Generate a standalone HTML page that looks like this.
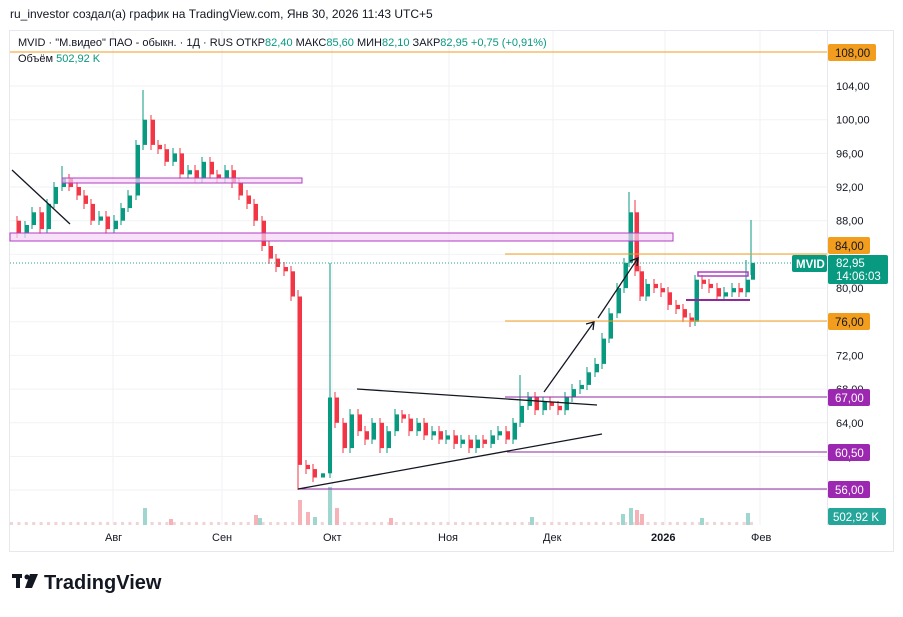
<!DOCTYPE html><html><head><meta charset="utf-8"><style>
body{margin:0;background:#fff;width:903px;height:612px;overflow:hidden;font-family:"Liberation Sans",sans-serif}
</style></head><body>
<svg width="903" height="612" xmlns="http://www.w3.org/2000/svg" font-family="Liberation Sans, sans-serif">
<defs><pattern id="vp" x="10" y="0" width="7.4" height="10" patternUnits="userSpaceOnUse"><rect x="0" y="0" width="3" height="10" fill="#efd3d6"/></pattern></defs>
<text x="10" y="18" font-size="12" fill="#131722">ru_investor создал(а) график на TradingView.com, Янв 30, 2026 11:43 UTC+5</text>
<rect x="9.5" y="30.5" width="884" height="521" fill="#fff" stroke="#e6e8ee"/>
<g stroke="#f0f2f5" stroke-width="1">
<line x1="10" x2="827" y1="86" y2="86"/><line x1="10" x2="827" y1="119.7" y2="119.7"/><line x1="10" x2="827" y1="153.4" y2="153.4"/><line x1="10" x2="827" y1="187" y2="187"/><line x1="10" x2="827" y1="220.7" y2="220.7"/><line x1="10" x2="827" y1="254.4" y2="254.4"/><line x1="10" x2="827" y1="288.1" y2="288.1"/><line x1="10" x2="827" y1="321.8" y2="321.8"/><line x1="10" x2="827" y1="355.4" y2="355.4"/><line x1="10" x2="827" y1="389.1" y2="389.1"/><line x1="10" x2="827" y1="422.8" y2="422.8"/><line x1="10" x2="827" y1="456.5" y2="456.5"/><line x1="10" x2="827" y1="490" y2="490"/>
<line y1="31" y2="525" x1="113" x2="113"/><line y1="31" y2="525" x1="222" x2="222"/><line y1="31" y2="525" x1="332" x2="332"/><line y1="31" y2="525" x1="449" x2="449"/><line y1="31" y2="525" x1="553" x2="553"/><line y1="31" y2="525" x1="665" x2="665"/><line y1="31" y2="525" x1="760" x2="760"/>
</g>
<line x1="827.5" y1="31" x2="827.5" y2="525" stroke="#e6e8ee"/>
<rect x="10" y="522" width="746" height="3" fill="url(#vp)"/>
<g fill="#f5b3b8"><rect x="298" y="500" width="4" height="25"/><rect x="306" y="512" width="4" height="13"/><rect x="335" y="508" width="4" height="17"/><rect x="254" y="515" width="4" height="10"/><rect x="640" y="514" width="4" height="11"/><rect x="635" y="510" width="4" height="15"/><rect x="169" y="519" width="4" height="6"/><rect x="389" y="518" width="4" height="7"/></g>
<g fill="#9fd6d0"><rect x="143" y="508" width="4" height="17"/><rect x="328" y="487" width="4" height="38"/><rect x="313" y="517" width="4" height="8"/><rect x="629" y="508" width="4" height="17"/><rect x="621" y="514" width="4" height="11"/><rect x="746" y="513" width="4" height="12"/><rect x="530" y="517" width="4" height="8"/><rect x="258" y="518" width="4" height="7"/><rect x="700" y="518" width="4" height="7"/></g>
<path stroke="#089981" fill="none" d="M25 221V238M32 207V229M47 199V233M54 182V208M62 166V191M99 211V225M114 215V233M121 203V225M128 190V212M136 140V200M143 90V150M173 148V166M188 165V179M202 157V183M225 165V183M330 263V478M350 409V453M372 418V444M387 426V453M395 409V436M417 418V436M432 426V440M446 430V444M461 435V448M476 435V453M491 430V448M498 426V440M513 418V444M520 375V427M528 392V410M543 397V415M565 392V415M572 384V402M580 380V394M587 367V390M595 358V377M602 333V369M609 308V343M617 283V318M624 258V293M629 192V267M646 279V301M695 275V326M724 287V301M732 283V297M746 260V297M751 220V275"/>
<path stroke="#f23645" fill="none" d="M17 216V238M40 207V234M69 174V191M77 182V200M84 190V209M91 199V225M106 211V234M151 115V150M158 140V154M165 144V166M180 148V179M195 165V183M210 157V179M217 170V183M232 165V188M239 178V200M247 190V209M254 199V226M262 216V251M269 241V264M276 254V272M284 262V276M291 266V301M298 290V490M306 460V474M313 464V482M335 392V428M343 418V453M358 409V436M365 426V445M380 418V453M402 410V423M409 414V436M424 418V440M439 426V444M454 430V449M469 435V453M483 435V448M506 426V444M535 392V415M550 397V410M558 401V415M635 200V276M640 266V301M654 279V293M661 283V297M668 287V310M676 300V314M683 304V322M690 313V327M702 275V289M709 279V293M717 283V301M739 283V297"/>
<g fill="#089981">
<rect x="25" y="225" width="4" height="8.4"/><rect x="32" y="212.3" width="4" height="12.7"/><rect x="47" y="203.9" width="4" height="25.2"/><rect x="54" y="187" width="4" height="16.9"/><rect x="62" y="178.6" width="4" height="8.4"/><rect x="99" y="216.5" width="4" height="4.2"/><rect x="114" y="220.7" width="4" height="8.4"/><rect x="121" y="208.1" width="4" height="12.6"/><rect x="128" y="195.5" width="4" height="12.6"/><rect x="136" y="144.9" width="4" height="50.6"/><rect x="143" y="119.7" width="4" height="25.2"/><rect x="173" y="153.4" width="4" height="8.4"/><rect x="188" y="170.2" width="4" height="4.2"/><rect x="202" y="161.8" width="4" height="16.8"/><rect x="225" y="170.2" width="4" height="8.4"/>
<rect x="321" y="473.3" width="4" height="4.2"/><rect x="328" y="397.5" width="4" height="75.8"/><rect x="350" y="414.4" width="4" height="33.7"/><rect x="372" y="422.8" width="4" height="16.8"/><rect x="387" y="431.2" width="4" height="16.9"/><rect x="395" y="414.4" width="4" height="16.8"/><rect x="417" y="422.8" width="4" height="8.4"/><rect x="432" y="431.2" width="4" height="4.2"/><rect x="446" y="435.4" width="4" height="4.2"/><rect x="461" y="439.6" width="4" height="4.3"/><rect x="476" y="439.6" width="4" height="8.5"/><rect x="491" y="435.4" width="4" height="8.5"/><rect x="498" y="431.2" width="4" height="4.2"/><rect x="513" y="422.8" width="4" height="16.8"/><rect x="520" y="405.9" width="4" height="16.9"/><rect x="528" y="397.5" width="4" height="8.4"/><rect x="543" y="401.7" width="4" height="8.5"/><rect x="565" y="397.5" width="4" height="12.7"/><rect x="572" y="389.1" width="4" height="8.4"/><rect x="580" y="384.9" width="4" height="4.2"/><rect x="587" y="372.3" width="4" height="12.6"/><rect x="595" y="363.9" width="4" height="8.4"/><rect x="602" y="338.6" width="4" height="25.3"/><rect x="609" y="313.3" width="4" height="25.3"/><rect x="617" y="288.1" width="4" height="25.2"/><rect x="624" y="262.8" width="4" height="25.3"/><rect x="629" y="212.3" width="4" height="50.5"/><rect x="646" y="283.9" width="4" height="12.6"/><rect x="695" y="279.7" width="4" height="42.1"/><rect x="724" y="292.3" width="4" height="4.2"/><rect x="732" y="288.1" width="4" height="4.2"/><rect x="746" y="279.7" width="4" height="12.6"/><rect x="751" y="262.8" width="4" height="16.9"/>
</g>
<g fill="#f23645">
<rect x="17" y="220.7" width="4" height="12.7"/><rect x="40" y="212.3" width="4" height="16.8"/><rect x="69" y="178.6" width="4" height="8.4"/><rect x="77" y="187" width="4" height="8.5"/><rect x="84" y="195.5" width="4" height="8.4"/><rect x="91" y="203.9" width="4" height="16.8"/><rect x="106" y="216.5" width="4" height="12.6"/><rect x="151" y="119.7" width="4" height="25.2"/><rect x="158" y="144.9" width="4" height="4.3"/><rect x="165" y="149.2" width="4" height="12.6"/><rect x="180" y="153.4" width="4" height="21"/><rect x="195" y="170.2" width="4" height="8.4"/><rect x="210" y="161.8" width="4" height="12.6"/><rect x="217" y="174.4" width="4" height="4.2"/><rect x="232" y="170.2" width="4" height="12.7"/><rect x="239" y="182.9" width="4" height="12.6"/><rect x="247" y="195.5" width="4" height="8.4"/><rect x="254" y="203.9" width="4" height="16.8"/><rect x="262" y="220.7" width="4" height="25.3"/><rect x="269" y="246" width="4" height="12.6"/><rect x="276" y="258.6" width="4" height="8.4"/><rect x="284" y="267" width="4" height="4.3"/><rect x="291" y="271.3" width="4" height="25.2"/><rect x="298" y="296.5" width="4" height="168.4"/><rect x="306" y="464.9" width="4" height="4.2"/><rect x="313" y="469.1" width="4" height="8.4"/>
<rect x="335" y="397.5" width="4" height="25.3"/><rect x="343" y="422.8" width="4" height="25.3"/><rect x="358" y="414.4" width="4" height="16.8"/><rect x="365" y="431.2" width="4" height="8.4"/><rect x="380" y="422.8" width="4" height="25.3"/><rect x="402" y="414.4" width="4" height="4.2"/><rect x="409" y="418.6" width="4" height="12.6"/><rect x="424" y="422.8" width="4" height="12.6"/><rect x="439" y="431.2" width="4" height="8.4"/><rect x="454" y="435.4" width="4" height="8.5"/><rect x="469" y="439.6" width="4" height="8.5"/><rect x="483" y="439.6" width="4" height="4.3"/><rect x="506" y="431.2" width="4" height="8.4"/><rect x="535" y="397.5" width="4" height="12.7"/><rect x="550" y="401.7" width="4" height="4.2"/><rect x="558" y="405.9" width="4" height="4.3"/>
<rect x="635" y="212.3" width="4" height="59"/><rect x="640" y="271.3" width="4" height="25.2"/><rect x="654" y="283.9" width="4" height="4.2"/><rect x="661" y="288.1" width="4" height="4.2"/><rect x="668" y="292.3" width="4" height="12.6"/><rect x="676" y="304.9" width="4" height="4.2"/><rect x="683" y="309.1" width="4" height="8.4"/><rect x="690" y="317.5" width="4" height="4.3"/><rect x="702" y="279.7" width="4" height="4.2"/><rect x="709" y="283.9" width="4" height="4.2"/><rect x="717" y="288.1" width="4" height="8.4"/><rect x="739" y="288.1" width="4" height="4.2"/>
</g>
<rect x="62" y="178" width="240" height="5" fill="#f3d6f7" fill-opacity="0.7" stroke="#b03dc2"/>
<rect x="10" y="233" width="663" height="8" fill="#f3d6f7" fill-opacity="0.7" stroke="#b03dc2"/>
<rect x="698" y="272" width="50" height="4" fill="none" stroke="#b03dc2" stroke-width="1.5"/>
<line x1="10" y1="52" x2="827" y2="52" stroke="#f29d1e"/>
<line x1="505" y1="254" x2="827" y2="254" stroke="#f29d1e"/>
<line x1="505" y1="321" x2="827" y2="321" stroke="#f29d1e"/>
<line x1="505" y1="397" x2="827" y2="397" stroke="#8e2a9c"/>
<line x1="507" y1="452" x2="827" y2="452" stroke="#8e2a9c"/>
<line x1="298" y1="489" x2="827" y2="489" stroke="#8e2a9c"/>
<line x1="686" y1="300" x2="750" y2="300" stroke="#8e2a9c" stroke-width="2"/>
<line x1="10" y1="263" x2="827" y2="263" stroke="#26a69a" stroke-dasharray="1,2"/>
<g stroke="#131722" stroke-width="1.3" fill="none">
<line x1="12" y1="170" x2="70" y2="224"/>
<line x1="357" y1="389" x2="597" y2="405"/>
<line x1="298" y1="489" x2="602" y2="434"/>
<line x1="544" y1="392" x2="594" y2="322"/><polyline points="586,324 594,322 593,330"/>
<line x1="598" y1="318" x2="638" y2="258"/><polyline points="630,261 638,258 637,266"/>
</g>
<g font-size="11" fill="#131722">
<text x="836" y="90">104,00</text><text x="836" y="123.7">100,00</text><text x="836" y="157.4">96,00</text><text x="836" y="191">92,00</text><text x="836" y="224.7">88,00</text><text x="836" y="292">80,00</text><text x="836" y="359.4">72,00</text><text x="836" y="393">68,00</text><text x="836" y="426.8">64,00</text><text x="836" y="460.5">60,00</text>
<text x="105" y="541">Авг</text><text x="212" y="541">Сен</text><text x="323" y="541">Окт</text><text x="438" y="541">Ноя</text><text x="543" y="541">Дек</text><text x="651" y="541" font-weight="bold">2026</text><text x="751" y="541">Фев</text>
</g>
<g font-size="11">
<text x="18" y="46" fill="#131722">MVID · "М.видео" ПАО - обыкн. · 1Д · RUS  ОТКР<tspan fill="#089981">82,40</tspan>  МАКС<tspan fill="#089981">85,60</tspan>  МИН<tspan fill="#089981">82,10</tspan>  ЗАКР<tspan fill="#089981">82,95</tspan>  <tspan fill="#089981">+0,75 (+0,91%)</tspan></text>
<text x="18" y="62" fill="#131722">Объём  <tspan fill="#089981">502,92 K</tspan></text>
</g>
<g font-size="11.5" fill="#131722">
<rect x="828" y="44" width="48" height="17" fill="#f29d1e" rx="2"/><text x="835" y="57">108,00</text>
<rect x="828" y="237" width="42" height="17" fill="#f29d1e" rx="2"/><text x="835" y="250">84,00</text>
<rect x="828" y="313" width="42" height="17" fill="#f29d1e" rx="2"/><text x="835" y="326">76,00</text>
</g>
<g font-size="11.5" fill="#fff">
<rect x="828" y="389" width="42" height="17" fill="#9c27b0" rx="2"/><text x="835" y="402">67,00</text>
<rect x="828" y="444" width="42" height="17" fill="#9c27b0" rx="2"/><text x="835" y="457">60,50</text>
<rect x="828" y="481" width="42" height="17" fill="#9c27b0" rx="2"/><text x="835" y="494">56,00</text>
<rect x="792" y="255" width="35" height="17" fill="#089981" rx="2"/><text x="796" y="268" font-weight="bold">MVID</text>
<rect x="828" y="255" width="60" height="29" fill="#089981" rx="2"/><text x="836" y="267">82,95</text><text x="836" y="280">14:06:03</text>
<rect x="828" y="508" width="58" height="17" fill="#26a69a" rx="2"/><text x="833" y="521">502,92 K</text>
</g>
<g fill="#131722"><rect x="12" y="574" width="10" height="4"/><rect x="16" y="574" width="4" height="14"/><circle cx="27" cy="577" r="2.5"/><polygon points="30,574 38,574 32,588 25,588"/></g>
<text x="44" y="589" font-size="20" font-weight="bold" fill="#131722">TradingView</text>
</svg>
</body></html>
